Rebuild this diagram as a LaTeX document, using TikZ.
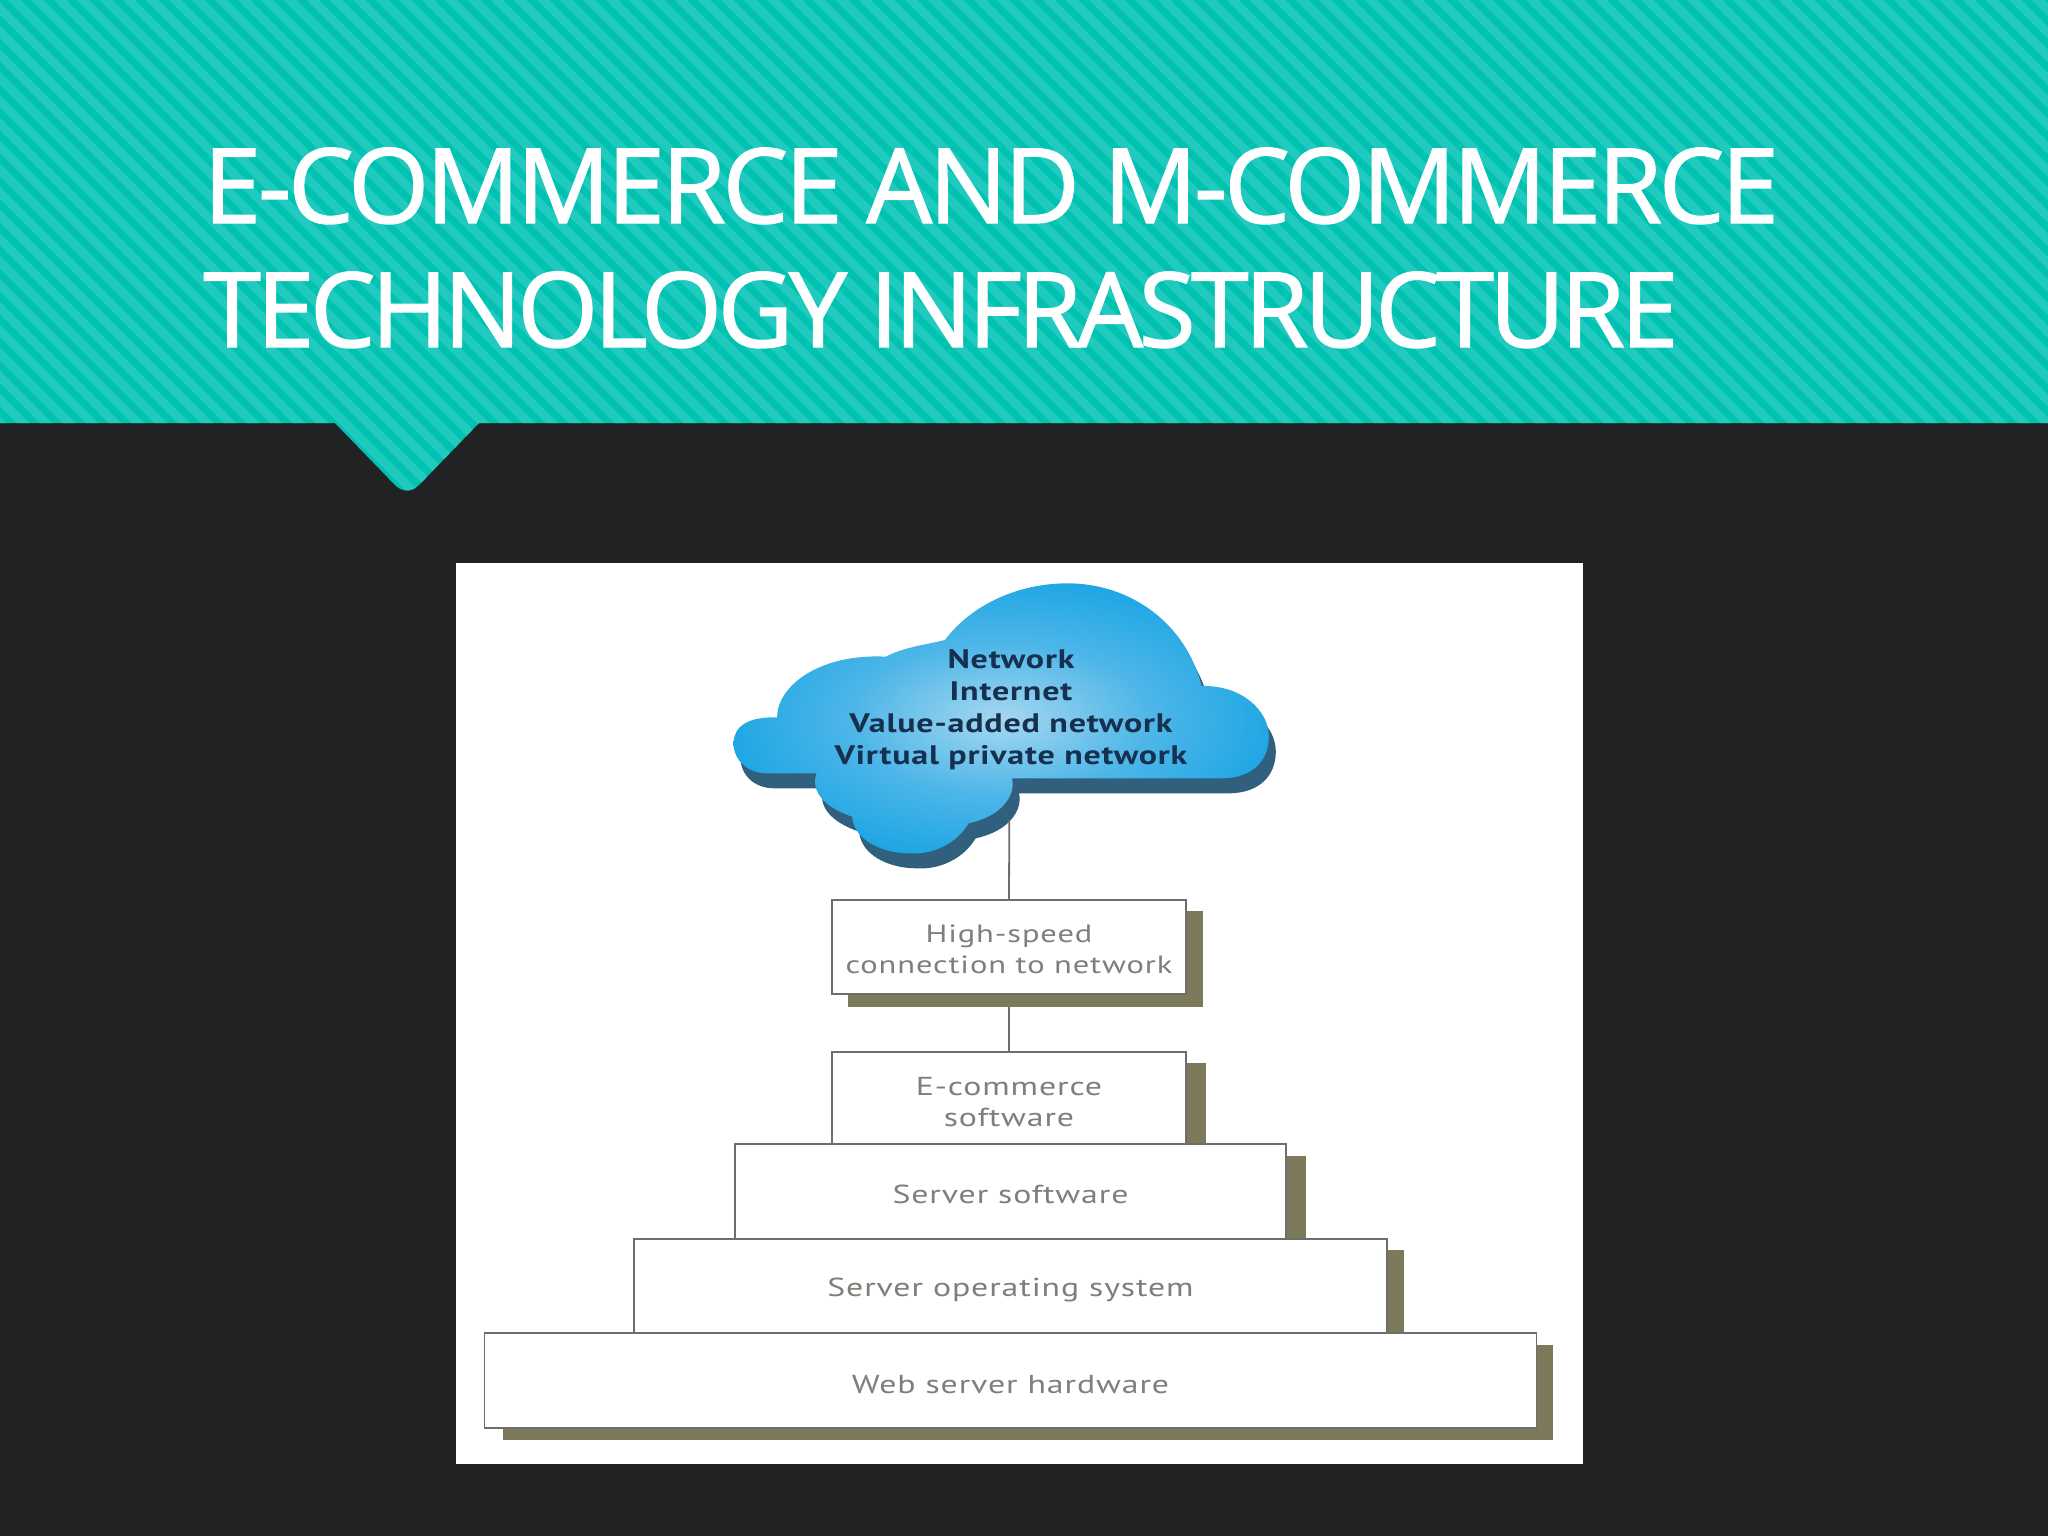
\documentclass[tikz,border=0pt]{standalone}
\usepackage{fontspec}
\setmainfont{Open Sans}
\newfontfamily\titlefam[LetterSpace=-3.2,FakeBold=1.3]{Open Sans}
\newfontfamily\titlefamb[LetterSpace=-4.3,FakeBold=1.3]{Open Sans}
\newfontfamily\boxfam[FakeStretch=1.3,LetterSpace=3.5]{PT Sans}
\newfontfamily\cloudfam[FakeStretch=1.27,LetterSpace=3]{PT Sans}
\definecolor{slatebg}{HTML}{212223}
\definecolor{tealbase}{HTML}{00C2B1}
\definecolor{teallight}{HTML}{20CABE}
\definecolor{olivesh}{HTML}{7D7A5C}
\definecolor{boxedge}{HTML}{6E6E6E}
\definecolor{boxtext}{HTML}{7F7F7A}
\definecolor{cloudnavy}{HTML}{16304F}
\definecolor{cloudshadow}{HTML}{31607F}
\definecolor{cloudedge}{HTML}{1AA5E4}
\definecolor{cloudmid}{HTML}{4DB6E8}
\definecolor{cloudcore}{HTML}{A6D8F0}
\pgfdeclareradialshading{cloudshade}{\pgfpoint{0bp}{0bp}}{
  color(0bp)=(cloudcore); color(14bp)=(cloudmid); color(27bp)=(cloudedge); color(50bp)=(cloudedge)}
\tikzset{
  stackbox/.style={draw=boxedge,line width=0.7pt,fill=white,inner sep=0pt,align=center,
    text=boxtext,font=\boxfam\fontsize{13}{15.5}\selectfont},
  shadowbar/.style={fill=olivesh},
  linkline/.style={draw=boxedge,line width=0.9pt},
  cloudlabel/.style={inner sep=0pt,align=center,text=cloudnavy,
    font=\cloudfam\bfseries\fontsize{13.4}{16}\selectfont},
  titletext/.style={inner sep=0pt,anchor=base west,text=white,font=\fontsize{52}{62}\selectfont}
}
\newcommand{\cloudpath}{
  (85,550) .. controls (85,500) and (120,470) .. (195,472)
  .. controls (195,380) and (300,280) .. (470,290)
  .. controls (520,260) and (570,255) .. (620,240)
  .. controls (690,130) and (810,70) .. (930,70)
  .. controls (1090,70) and (1230,190) .. (1270,378)
  .. controls (1370,375) and (1440,450) .. (1440,530)
  .. controls (1440,600) and (1400,655) .. (1320,655)
  -- (790,655)
  .. controls (800,710) and (760,770) .. (680,790)
  .. controls (650,850) and (590,885) .. (530,880)
  .. controls (460,880) and (390,840) .. (385,770)
  .. controls (310,740) and (280,690) .. (295,640)
  -- (170,640)
  .. controls (120,640) and (85,600) .. (85,550) -- cycle}
\begin{document}
\begin{tikzpicture}[x=0.5pt,y=-0.5pt]
\useasboundingbox (0,0) rectangle (2048,1536);
\fill[slatebg] (0,0) rectangle (2048,1536);
% banner
\begin{scope}
\clip (0,0) -- (2048,0) -- (2048,423) -- (479,423) -- (418,486)
  .. controls (411,492) and (403,492) .. (396,486) -- (335,423) -- (0,423) -- cycle;
\fill[tealbase] (0,0) rectangle (2048,500);
\foreach \s in {-520,-497,...,2060}
  \draw[teallight,line width=4.5pt] (\s,-5) -- (\s+510,505);
\end{scope}
\node[titletext] (titleA) at (203,223) {\titlefam E-COMMERCE AND M-COMMERCE};
\node[titletext] (titleB) at (203,347) {\titlefamb TECHNOLOGY INFRASTRUCTURE};
% white panel
\fill[white] (456,563) rectangle (1583,1464);
% cloud
\begin{scope}[shift={(707,575)},xscale=0.395,yscale=0.3333]
\fill[cloudshadow] \cloudpath;
\end{scope}
\begin{scope}[shift={(700,560)},xscale=0.395,yscale=0.3333]
\shade[shading=cloudshade] \cloudpath;
\coordinate (cloudfoot) at (783,780);
\end{scope}
% shadows
\fill[shadowbar] (848,911) rectangle (1203,1007);
\fill[shadowbar] (1180,1063) rectangle (1206,1150);
\fill[shadowbar] (1260,1156) rectangle (1306,1245);
\fill[shadowbar] (1360,1250) rectangle (1404,1340);
\fill[shadowbar] (503,1345) rectangle (1553,1440);
% boxes
\node[stackbox,font=\boxfam\fontsize{12.5}{15.5}\selectfont,minimum width=177pt,minimum height=47pt,text height=26pt,text depth=0pt] (high) at (1009,947) {High-speed\\connection to network};
\node[stackbox,minimum width=177pt,minimum height=46pt,text height=28pt,text depth=0pt] (ecom) at (1009,1098) {E-commerce\\software};
\node[stackbox,minimum width=275.5pt,minimum height=47.5pt,text height=11.5pt,text depth=0pt] (srv) at (1010.5,1191.5) {Server software};
\node[stackbox,minimum width=376.5pt,minimum height=47pt,text height=10pt,text depth=0pt] (os) at (1010.5,1286) {Server operating system};
\node[stackbox,minimum width=526pt,minimum height=47.5pt,text height=12.5pt,text depth=0pt] (web) at (1010.5,1380.5) {Web server hardware};
% connectors
\draw[linkline] (cloudfoot) -- (high.north);
\coordinate (highfoot) at (1009,1007);
\draw[linkline] (highfoot) -- (ecom.north);
% cloud text
\node[cloudlabel] (net) at (1011,710) {Network\\Internet\\Value-added network\\Virtual private network};
\end{tikzpicture}
\end{document}
